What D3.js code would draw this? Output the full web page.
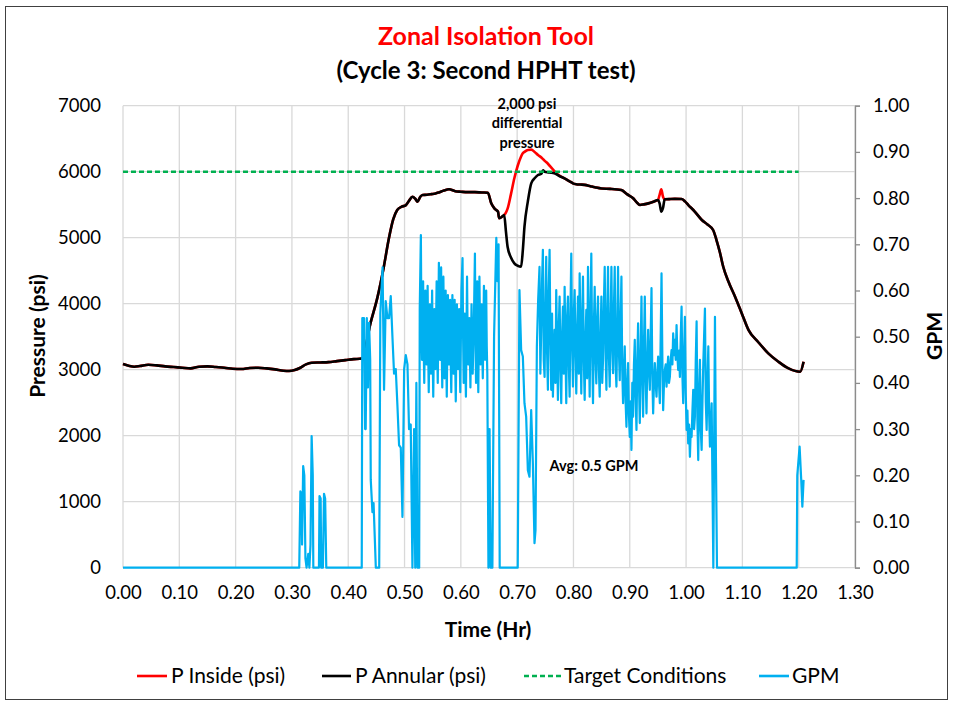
<!DOCTYPE html>
<html><head><meta charset="utf-8">
<script src="https://cdn.jsdelivr.net/npm/d3@7"></script>
<style>
body{margin:0;background:#fff}
svg{display:block}
text{font-family:Lato,"Open Sans",sans-serif}
</style>
</head><body>
<svg id="chart" width="954" height="701"></svg>
<script>
// ---------- data ----------
const chartTitle = "Zonal Isolation Tool";
const chartSubtitle = "(Cycle 3: Second HPHT test)";
const xTicks = [0,0.1,0.2,0.3,0.4,0.5,0.6,0.7,0.8,0.9,1.0,1.1,1.2,1.3];
const yTicks = [0,1000,2000,3000,4000,5000,6000,7000];
const y2Ticks = [0,0.1,0.2,0.3,0.4,0.5,0.6,0.7,0.8,0.9,1.0];
const seriesNames = ["P Inside (psi)","P Annular (psi)","Target Conditions","GPM"];
const targetPressure = 6000;
const targetTimes = [0, 1.2];
const annotDiff = ["2,000 psi","differential","pressure"];
const annotAvg = "Avg: 0.5 GPM";

const pAnnular = [[0.000,3085],[0.010,3060],[0.020,3045],[0.030,3055],[0.045,3075],[0.060,3065],[0.075,3050],[0.090,3040],[0.105,3030],[0.120,3020],[0.135,3045],[0.150,3050],[0.165,3040],[0.180,3030],[0.195,3015],[0.210,3010],[0.225,3025],[0.240,3030],[0.255,3020],[0.270,3005],[0.285,2985],[0.295,2980],[0.305,2995],[0.315,3030],[0.325,3080],[0.335,3105],[0.350,3110],[0.365,3115],[0.380,3130],[0.395,3145],[0.410,3160],[0.424,3170],[0.440,3720],[0.452,4100],[0.463,4550],[0.472,4980],[0.480,5280],[0.487,5420],[0.495,5470],[0.502,5490],[0.508,5560],[0.514,5620],[0.519,5590],[0.523,5545],[0.528,5620],[0.532,5647],[0.540,5650],[0.548,5660],[0.555,5670],[0.562,5690],[0.570,5715],[0.579,5733],[0.590,5705],[0.600,5697],[0.612,5690],[0.625,5690],[0.637,5685],[0.648,5682],[0.654,5521],[0.660,5440],[0.666,5394],[0.668,5294],[0.672,5310],[0.677,5344],[0.680,5100],[0.683,4864],[0.689,4700],[0.695,4612],[0.701,4575],[0.707,4560],[0.710,4800],[0.713,5167],[0.719,5550],[0.725,5824],[0.731,5900],[0.737,5950],[0.743,5970],[0.746,6020],[0.749,6000],[0.755,5990],[0.760,5985],[0.766,5975],[0.775,5935],[0.784,5900],[0.790,5870],[0.795,5845],[0.799,5824],[0.805,5810],[0.812,5805],[0.820,5800],[0.830,5780],[0.838,5764],[0.850,5745],[0.865,5740],[0.885,5723],[0.895,5660],[0.906,5597],[0.912,5540],[0.918,5495],[0.925,5505],[0.933,5520],[0.942,5545],[0.950,5571],[0.953,5520],[0.956,5394],[0.959,5450],[0.962,5582],[0.970,5585],[0.980,5588],[0.992,5586],[0.998,5550],[1.004,5495],[1.015,5400],[1.028,5268],[1.038,5200],[1.048,5117],[1.054,4965],[1.060,4780],[1.066,4560],[1.075,4340],[1.087,4106],[1.100,3830],[1.111,3600],[1.128,3420],[1.146,3248],[1.164,3121],[1.182,3020],[1.2027,2970],[1.2087,3121]];

const pInside = [[0.000,3085],[0.010,3060],[0.020,3045],[0.030,3055],[0.045,3075],[0.060,3065],[0.075,3050],[0.090,3040],[0.105,3030],[0.120,3020],[0.135,3045],[0.150,3050],[0.165,3040],[0.180,3030],[0.195,3015],[0.210,3010],[0.225,3025],[0.240,3030],[0.255,3020],[0.270,3005],[0.285,2985],[0.295,2980],[0.305,2995],[0.315,3030],[0.325,3080],[0.335,3105],[0.350,3110],[0.365,3115],[0.380,3130],[0.395,3145],[0.410,3160],[0.424,3170],[0.440,3720],[0.452,4100],[0.463,4550],[0.472,4980],[0.480,5280],[0.487,5420],[0.495,5470],[0.502,5490],[0.508,5560],[0.514,5620],[0.519,5590],[0.523,5545],[0.528,5620],[0.532,5647],[0.540,5650],[0.548,5660],[0.555,5670],[0.562,5690],[0.570,5715],[0.579,5733],[0.590,5705],[0.600,5697],[0.612,5690],[0.625,5690],[0.637,5685],[0.648,5682],[0.654,5521],[0.660,5440],[0.666,5394],[0.668,5294],[0.672,5310],[0.677,5344],[0.680,5380],[0.683,5440],[0.689,5660],[0.695,5900],[0.701,6090],[0.707,6230],[0.710,6279],[0.713,6300],[0.719,6330],[0.725,6335],[0.731,6300],[0.737,6253],[0.743,6215],[0.746,6190],[0.749,6165],[0.755,6117],[0.760,6070],[0.766,6010],[0.775,5940],[0.784,5900],[0.790,5870],[0.795,5845],[0.799,5824],[0.805,5810],[0.812,5805],[0.820,5800],[0.830,5780],[0.838,5764],[0.850,5745],[0.865,5740],[0.885,5723],[0.895,5660],[0.906,5597],[0.912,5540],[0.918,5495],[0.925,5505],[0.933,5520],[0.942,5545],[0.950,5571],[0.953,5650],[0.956,5733],[0.959,5620],[0.962,5582],[0.970,5585],[0.980,5588],[0.992,5586],[0.998,5550],[1.004,5495],[1.015,5400],[1.028,5268],[1.038,5200],[1.048,5117],[1.054,4965],[1.060,4780],[1.066,4560],[1.075,4340],[1.087,4106],[1.100,3830],[1.111,3600],[1.128,3420],[1.146,3248],[1.164,3121],[1.182,3020],[1.2027,2970],[1.2087,3121]];

const gpm = [[0,0],[0.313,0],[0.315,0.165],[0.317,0.16],[0.318,0.05],[0.320,0.22],[0.322,0.2],[0.324,0.02],[0.326,0],[0.329,0.03],[0.331,0],[0.333,0.05],[0.335,0.285],[0.337,0.2],[0.338,0],[0.348,0],[0.349,0.155],[0.351,0.15],[0.352,0],[0.355,0],[0.357,0.16],[0.359,0.15],[0.361,0],
[0.424,0],[0.425,0.54],[0.428,0.54],[0.430,0.30],[0.431,0.30],[0.433,0.54],[0.435,0.39],[0.437,0.53],[0.439,0.45],[0.440,0.19],[0.443,0.12],[0.445,0.14],[0.449,0],
[0.455,0],[0.457,0.55],[0.461,0.65],[0.4636,0.385],[0.4666,0.577],[0.4696,0.54],[0.4725,0.54],[0.4755,0.588],[0.4785,0.5],[0.4814,0.42],[0.4844,0.43],[0.4874,0.35],[0.4903,0.265],[0.4933,0.26],[0.4963,0.11],[0.4993,0.43],[0.5022,0.46],[0.5052,0.44],[0.508,0.30],[0.511,0.31],[0.514,0],[0.517,0.3],[0.519,0],[0.521,0.4],[0.523,0],[0.526,0],[0.527,0.56],
[0.529,0.72],[0.530,0.52],[0.531,0.45],[0.533,0.62],[0.534,0.48],[0.535,0.40],[0.537,0.60],[0.538,0.50],[0.539,0.44],[0.541,0.61],[0.542,0.47],[0.543,0.38],[0.545,0.57],[0.546,0.50],[0.547,0.42],[0.549,0.60],[0.550,0.46],[0.551,0.37],[0.553,0.56],[0.554,0.49],[0.555,0.43],[0.557,0.62],[0.558,0.47],[0.559,0.40],[0.561,0.66],[0.562,0.52],[0.563,0.45],[0.565,0.65],[0.566,0.48],[0.567,0.39],[0.569,0.63],[0.570,0.50],[0.571,0.41],[0.573,0.60],[0.574,0.46],[0.575,0.37],[0.577,0.59],[0.578,0.51],[0.579,0.44],[0.581,0.58],[0.582,0.45],[0.583,0.38],[0.585,0.59],[0.586,0.50],[0.587,0.42],[0.589,0.58],[0.590,0.44],[0.591,0.36],[0.593,0.57],[0.594,0.49],[0.595,0.43],[0.597,0.56],[0.598,0.45],[0.599,0.38],[0.601,0.60],[0.603,0.67],[0.604,0.50],[0.605,0.40],[0.607,0.55],[0.608,0.44],[0.609,0.37],[0.611,0.63],[0.612,0.51],[0.613,0.44],[0.615,0.54],[0.616,0.46],[0.617,0.39],[0.619,0.57],[0.620,0.48],[0.621,0.42],[0.623,0.52],[0.625,0.68],[0.626,0.50],[0.627,0.40],[0.629,0.62],[0.630,0.47],[0.631,0.38],[0.633,0.63],[0.634,0.52],[0.635,0.44],[0.637,0.57],[0.638,0.47],[0.639,0.41],[0.641,0.61],[0.642,0.51],[0.643,0.45],[0.645,0.60],[0.646,0.48],[0.647,0.42],
[0.649,0],[0.651,0.3],[0.653,0],[0.656,0],[0.659,0.5],[0.663,0.714],[0.665,0.62],[0.667,0.7],[0.669,0],[0.701,0],
[0.7041,0.601],[0.7071,0.471],[0.7101,0.457],[0.7130,0.356],[0.7160,0.327],[0.7190,0.211],[0.7219,0.197],[0.7249,0.341],[0.7279,0.226],[0.7308,0.053],[0.7326,0.081],[0.7350,0.479],[0.7373,0.58],[0.7397,0.651],[0.7412,0.42],[0.7427,0.515],[0.7442,0.62],[0.7457,0.688],[0.7472,0.45],[0.7487,0.413],[0.7502,0.56],[0.7516,0.673],[0.7531,0.47],[0.7546,0.385],[0.7561,0.60],[0.7576,0.688],[0.7590,0.50],[0.7605,0.385],[0.7620,0.55],[0.7635,0.370],[0.7650,0.45],[0.7665,0.515],[0.7680,0.40],[0.7694,0.601],[0.7709,0.48],[0.7724,0.363],[0.7739,0.52],[0.7754,0.587],[0.7769,0.43],[0.7783,0.356],[0.7798,0.50],[0.7813,0.565],[0.7828,0.42],[0.7843,0.608],[0.7858,0.47],[0.7872,0.356],[0.7887,0.54],[0.7902,0.587],[0.7917,0.44],[0.7932,0.370],[0.7947,0.56],[0.7961,0.680],[0.7976,0.49],[0.7991,0.392],[0.8006,0.55],[0.8021,0.601],[0.8036,0.46],[0.8050,0.377],[0.8065,0.51],[0.8080,0.587],[0.8095,0.42],[0.8110,0.637],[0.8125,0.50],[0.8139,0.377],[0.8154,0.53],[0.8169,0.630],[0.8184,0.45],[0.8199,0.363],[0.8214,0.49],[0.8228,0.558],[0.8243,0.41],[0.8258,0.651],[0.8273,0.50],[0.8288,0.370],[0.8302,0.55],[0.8317,0.680],[0.8332,0.47],[0.8347,0.356],[0.8362,0.52],[0.8377,0.608],[0.8392,0.45],[0.8406,0.399],[0.8421,0.54],[0.8436,0.587],[0.8451,0.43],[0.8466,0.370],[0.8481,0.50],[0.8496,0.587],[0.8511,0.40],[0.8525,0.450],[0.8540,0.57],[0.8555,0.651],[0.8570,0.47],[0.8585,0.385],[0.8600,0.55],[0.8614,0.651],[0.8629,0.46],[0.8644,0.392],[0.8659,0.53],[0.8674,0.651],[0.8689,0.48],[0.8703,0.421],[0.8718,0.56],[0.8733,0.651],[0.8748,0.44],[0.8763,0.392],[0.8778,0.52],[0.8792,0.651],[0.8807,0.47],[0.8822,0.406],[0.8837,0.54],[0.8852,0.630],[0.8866,0.43],[0.8881,0.356],[0.8896,0.42],[0.8911,0.479],[0.8926,0.36],[0.8941,0.305],[0.8956,0.40],[0.8970,0.443],[0.8985,0.33],[0.9000,0.283],[0.9015,0.36],[0.9030,0.255],[0.9045,0.40],[0.9059,0.327],[0.9074,0.44],[0.9089,0.493],[0.9104,0.37],[0.9119,0.298],[0.9134,0.45],[0.9148,0.529],[0.9163,0.40],[0.9178,0.313],[0.9193,0.46],[0.9208,0.587],
[0.9222,0.42],[0.9237,0.327],[0.9252,0.48],[0.9267,0.587],[0.9282,0.41],[0.9297,0.334],[0.9311,0.44],[0.9326,0.515],[0.9341,0.43],[0.9356,0.385],[0.9371,0.50],[0.9386,0.605],[0.9400,0.42],[0.9415,0.334],[0.9430,0.40],[0.9445,0.443],[0.9460,0.40],[0.9475,0.370],[0.9490,0.42],[0.9504,0.457],[0.9519,0.40],[0.9534,0.356],[0.9549,0.50],[0.9564,0.637],[0.9579,0.45],[0.9593,0.341],[0.9608,0.40],[0.9623,0.428],[0.9638,0.44],[0.9653,0.392],[0.9668,0.43],[0.9682,0.457],[0.9697,0.40],[0.9712,0.413],[0.9727,0.45],[0.9742,0.471],[0.9757,0.44],[0.9771,0.507],[0.9786,0.46],[0.9801,0.493],[0.9816,0.45],[0.9831,0.525],[0.9845,0.46],[0.9860,0.428],[0.9875,0.47],[0.9890,0.413],[0.9905,0.50],[0.9920,0.565],[0.9934,0.42],[0.9949,0.356],[0.9964,0.46],[0.9979,0.543],[0.9994,0.38],[1.0009,0.298],[1.0024,0.34],[1.0038,0.269],[1.0053,0.31],[1.0068,0.240],[1.0083,0.30],[1.0098,0.283],[1.0113,0.34],[1.0127,0.385],[1.0142,0.30],[1.0157,0.327],[1.0172,0.45],[1.0187,0.533],[1.0201,0.32],[1.0216,0.233],[1.0231,0.38],[1.0246,0.450],[1.0261,0.30],[1.0276,0.255],[1.0291,0.36],[1.0306,0.443],[1.0320,0.50],[1.0335,0.561],[1.0350,0.36],[1.0365,0.298],[1.0380,0.40],[1.0395,0.479],[1.0410,0.33],[1.0424,0.262],[1.0439,0.31],[1.0454,0.356],[1.0484,0],[1.0513,0.543],[1.0531,0.226],[1.0549,0],
[1.1965,0],[1.1975,0.2],[1.2016,0.262],[1.2045,0.19],[1.2065,0.132],[1.2087,0.19]];

// ---------- drawing ----------
const svg = d3.select("#chart");
const colors = {inside:"#ff0000", annular:"#000000", target:"#00b050", gpm:"#00b0f0"};
const x = d3.scaleLinear().domain([0,1.3]).range([123,855]);
const y = d3.scaleLinear().domain([0,7000]).range([567.7,105.7]);
const y2 = d3.scaleLinear().domain([0,1]).range([567.7,105.7]);

svg.append("rect").attr("x",5.5).attr("y",6.5).attr("width",942).attr("height",693)
  .attr("fill","#fff").attr("stroke","#404040").attr("stroke-width",1);

// gridlines
const grid = svg.append("g");
grid.selectAll(".gx").data(xTicks).join("line")
  .attr("x1",d=>x(d)).attr("x2",d=>x(d)).attr("y1",y(0)).attr("y2",y(7000))
  .attr("stroke","#d9d9d9").attr("stroke-width",1.3);
grid.selectAll(".gy").data(yTicks).join("line")
  .attr("x1",x(0)).attr("x2",x(1.3)).attr("y1",d=>y(d)).attr("y2",d=>y(d))
  .attr("stroke","#d9d9d9").attr("stroke-width",1.3);

// axes
const fs = 18.5;
const axL = svg.append("g").attr("transform",`translate(${x(0)},0)`)
  .call(d3.axisLeft(y).tickValues(yTicks).tickFormat(d3.format("d")).tickSize(0).tickPadding(22));
const axR = svg.append("g").attr("transform",`translate(${x(1.3)},0)`)
  .call(d3.axisRight(y2).tickValues(y2Ticks).tickFormat(d3.format(".2f")).tickSize(5).tickPadding(13));
const axB = svg.append("g").attr("transform",`translate(0,${y(0)})`)
  .call(d3.axisBottom(x).tickValues(xTicks).tickFormat(d3.format(".2f")).tickSize(0).tickPadding(18));
[axL,axR,axB].forEach(a=>{
  a.selectAll("text").attr("font-size",fs).attr("fill","#000").style("font-family","Lato");
});
axL.select(".domain").remove();
axB.select(".domain").remove();
axR.select(".domain").attr("stroke","#8c8c8c").attr("stroke-width",1.3);
axR.selectAll(".tick line").attr("stroke","#8c8c8c").attr("stroke-width",1.3);

// series
const lineP = d3.line().x(d=>x(d[0])).y(d=>y(d[1])).curve(d3.curveMonotoneX);
const lineG = d3.line().x(d=>x(d[0])).y(d=>y2(d[1]));
svg.append("path").datum(pInside).attr("d",lineP).attr("fill","none")
  .attr("stroke",colors.inside).attr("stroke-width",2.6).attr("stroke-linejoin","round");
svg.append("path").datum(pAnnular).attr("d",lineP).attr("fill","none")
  .attr("stroke",colors.annular).attr("stroke-width",2.6).attr("stroke-linejoin","round");
svg.append("path").datum(targetTimes.map(t=>[t,targetPressure])).attr("d",d3.line().x(d=>x(d[0])).y(d=>y(d[1])))
  .attr("fill","none").attr("stroke",colors.target).attr("stroke-width",2.4).attr("stroke-dasharray","5,3");
svg.append("path").datum(gpm).attr("d",lineG).attr("fill","none")
  .attr("stroke",colors.gpm).attr("stroke-width",2.2).attr("stroke-linejoin","round");

// titles
svg.append("text").attr("x",486).attr("y",45).attr("text-anchor","middle")
  .attr("font-size",25).attr("font-weight","bold").attr("fill","#ff0000").text(chartTitle);
svg.append("text").attr("x",486).attr("y",78.5).attr("text-anchor","middle")
  .attr("font-size",24).attr("font-weight","bold").attr("fill","#000").text(chartSubtitle);

// axis titles
svg.append("text").attr("transform","translate(45,336) rotate(-90)").attr("text-anchor","middle")
  .attr("font-size",21).attr("font-weight","bold").text("Pressure (psi)");
svg.append("text").attr("transform","translate(942,336) rotate(-90)").attr("text-anchor","middle")
  .attr("font-size",21).attr("font-weight","bold").text("GPM");
svg.append("text").attr("x",488).attr("y",637).attr("text-anchor","middle")
  .attr("font-size",21).attr("font-weight","bold").text("Time (Hr)");

// annotations
svg.append("g").selectAll("text").data(annotDiff).join("text")
  .attr("x",527).attr("y",(d,i)=>108.5+i*19.5).attr("text-anchor","middle")
  .attr("font-size",14.5).attr("font-weight","bold").attr("fill","#000").text(d=>d);
svg.append("text").attr("x",594).attr("y",471).attr("text-anchor","middle")
  .attr("font-size",14.5).attr("font-weight","bold").attr("fill","#000").text(annotAvg);

// legend
const legend = [
  {name:seriesNames[0], color:colors.inside, x1:137, x2:167, dash:null, w:2.6, tx:171},
  {name:seriesNames[1], color:colors.annular, x1:322, x2:351, dash:null, w:2.6, tx:355},
  {name:seriesNames[2], color:colors.target, x1:524, x2:561, dash:"5,3", w:2.4, tx:564},
  {name:seriesNames[3], color:colors.gpm, x1:759, x2:789, dash:null, w:2.6, tx:792}
];
const lg = svg.append("g");
legend.forEach(l=>{
  lg.append("line").attr("x1",l.x1).attr("x2",l.x2).attr("y1",676).attr("y2",676)
    .attr("stroke",l.color).attr("stroke-width",l.w).attr("stroke-dasharray",l.dash);
  lg.append("text").attr("x",l.tx).attr("y",683).attr("font-size",21).attr("fill","#000").text(l.name);
});
</script>
</body></html>
